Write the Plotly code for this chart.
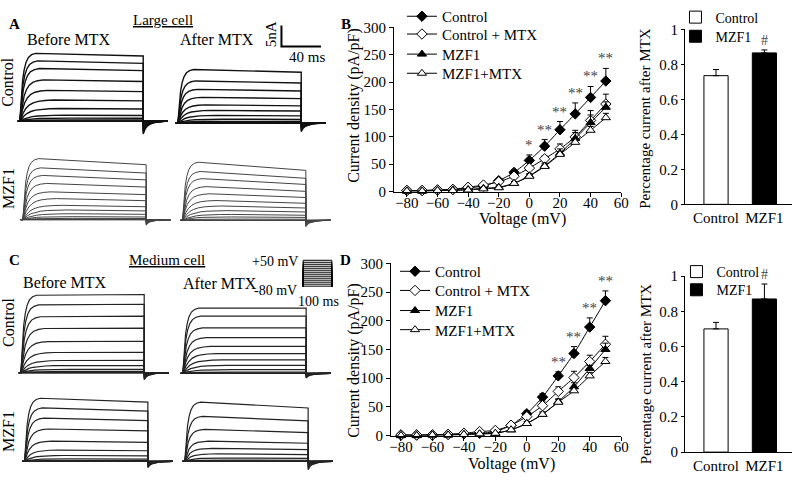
import plotly.graph_objects as go

W, H = 800, 485

# ------------------------
# I-V data (current density, pA/pF)
# ------------------------
voltage = [-80, -70, -60, -50, -40, -30, -20, -10, 0, 10, 20, 30, 40, 50]
iv_names = ["Control", "Control + MTX", "MZF1", "MZF1+MTX"]

# B: large cell
large_ctrl = [2, 2, 3, 4, 7, 10, 20, 35, 57, 83, 113, 142, 172, 202]
large_ctrl_err = [1, 1, 1, 1, 2, 2, 3, 5, 10, 12, 15, 20, 20, 23]
large_ctrl_mtx = [2, 2, 3, 4, 8, 12, 18, 28, 43, 60, 78, 100, 130, 160]
large_ctrl_mtx_err = [1, 1, 1, 1, 1, 2, 3, 3, 4, 5, 9, 12, 18, 18]
large_mzf = [1, 1, 2, 3, 4, 6, 8, 15, 29, 47, 70, 97, 126, 154]
large_mzf_err = [1, 1, 1, 1, 1, 1, 2, 3, 4, 5, 8, 11, 14, 10]
large_mzf_mtx = [1, 1, 2, 2, 3, 5, 7, 15, 28, 46, 68, 90, 112, 135]
large_mzf_mtx_err = [1, 1, 1, 1, 1, 1, 2, 3, 3, 4, 5, 6, 7, 8]
large_sig_v = [0, 10, 20, 30, 40, 50]
large_sig = ["*", "**", "**", "**", "**", "**"]

# D: medium cell
med_ctrl = [1, 1, 1, 2, 3, 4, 7, 18, 38, 67, 104, 143, 189, 235]
med_ctrl_err = [0, 0, 0, 0, 1, 1, 1, 2, 5, 6, 7, 12, 16, 17]
med_ctrl_mtx = [1, 1, 1, 2, 4, 7, 9, 18, 33, 52, 77, 101, 129, 159]
med_ctrl_mtx_err = [0, 0, 0, 0, 1, 1, 2, 2, 4, 8, 8, 11, 11, 14]
med_mzf = [0, 0, 1, 1, 2, 3, 4, 10, 21, 37, 59, 85, 117, 150]
med_mzf_err = [0, 0, 0, 0, 1, 1, 1, 2, 3, 4, 5, 7, 5, 11]
med_mzf_mtx = [0, 0, 1, 1, 2, 3, 4, 10, 21, 37, 58, 78, 104, 129]
med_mzf_mtx_err = [0, 0, 0, 0, 1, 1, 1, 2, 3, 4, 5, 6, 6, 7]
med_sig_v = [20, 30, 40, 50]
med_sig = ["**", "**", "**", "**"]

# ------------------------
# Fraction of current left after MTX
# ------------------------
groups = ["Control", "MZF1"]
group_fill = ["white", "black"]
large_frac = [0.735, 0.865]
large_frac_err = [0.035, 0.017]
med_frac = [0.70, 0.87]
med_frac_err = [0.037, 0.085]

# ------------------------
# Raw current sweeps (peak nA per sweep, largest first)
# ------------------------
a_ctrl_before = [16.1, 14.3, 12.5, 9.8, 7.3, 5.0, 3.0, 1.4, 0.7, 0.3, 0.1, 0, 0, 0]
a_ctrl_after = [12.7, 10.0, 8.0, 6.1, 4.3, 3.0, 1.8, 0.9, 0.4, 0.2, 0.1, 0, 0, 0]
a_mzf_before = [14.5, 12.3, 10.5, 8.6, 6.6, 5.0, 3.4, 2.3, 1.4, 0.7, 0.3, 0, 0, 0]
a_mzf_after = [13.8, 11.6, 9.9, 8.0, 6.3, 4.7, 3.4, 2.3, 1.4, 0.8, 0.3, 0, 0, 0]
c_ctrl_before = [18.4, 16.1, 13.3, 10.5, 7.4, 4.8, 2.9, 1.7, 0.8, 0.3, 0.1, 0, 0, 0]
c_ctrl_after = [15.5, 13.6, 10.8, 8.5, 6.4, 4.7, 3.2, 1.9, 0.9, 0.3, 0.1, 0, 0, 0]
c_mzf_before = [15.0, 12.7, 10.3, 7.7, 4.8, 2.7, 1.4, 0.6, 0.2, 0.1, 0, 0, 0, 0]
c_mzf_after = [14.1, 10.7, 7.6, 4.8, 3.1, 1.8, 0.8, 0.3, 0.1, 0, 0, 0, 0, 0]

# current at step end relative to peak, and tail depth relative to peak
droop = [0.96, 0.95, 0.9, 0.86, 1.01, 1.0, 0.94, 0.9]
tail_depth = [0.19, 0.16, 0.09, 0.11, 0.09, 0.07, 0.1, 0.14]

# normalised activation and tail time courses
act_t = [0, 0.04, 0.1, 0.18, 0.28, 0.4, 0.55, 0.75, 1.0]
act_f = [0, 0.12, 0.38, 0.6, 0.76, 0.87, 0.94, 0.98, 1.0]
rise_ms = [16, 18, 20, 24, 28, 34, 40, 45, 50, 50, 50, 50, 50, 50]
tail_t = [0, 0.5, 2, 4, 7, 11, 16, 24]
tail_f = [1, 0.85, 0.6, 0.4, 0.24, 0.12, 0.05, 0]
step_ms = 125
end_ms = 150

# scale bar and voltage protocol
bar_nA = 5
bar_ms = 40
protocol_ms = 100


def px(x):
    return x / W


def py(y):
    return 1 - y / H


def sweeps(peaks, dr, tail):
    xs, ys = [], []
    for k, amp in enumerate(peaks):
        r = rise_ms[k]
        xs += [-2] + [r * f for f in act_t] + [step_ms] + [step_ms + t for t in tail_t] + [end_ms, None]
        ys += [0] + [amp * f for f in act_f] + [amp * dr] + [-amp * tail * f for f in tail_f] + [0, None]
    return xs, ys


fig = go.Figure()
annotations = []
legends = {}

legend_style = dict(bgcolor="rgba(0,0,0,0)", font=dict(size=15), xanchor="left", yanchor="top")

# ------------------------
# I-V panels B and D
# ------------------------
symbols = ["diamond", "diamond", "triangle-up", "triangle-up"]
fills = ["black", "white", "black", "white"]

iv_sets = [
    ("x", "y", ["legend", "legend5", "legend6", "legend7"], 405, [-14, 5, 26, 46],
     [large_ctrl, large_ctrl_mtx, large_mzf, large_mzf_mtx],
     [large_ctrl_err, large_ctrl_mtx_err, large_mzf_err, large_mzf_mtx_err], large_sig_v, large_sig),
    ("x3", "y3", ["legend3", "legend8", "legend9", "legend10"], 398, [253, 273, 294, 314],
     [med_ctrl, med_ctrl_mtx, med_mzf, med_mzf_mtx],
     [med_ctrl_err, med_ctrl_mtx_err, med_mzf_err, med_mzf_mtx_err], med_sig_v, med_sig),
]

for xa, ya, legs, lx, ltops, series, errs, sig_v, sig in iv_sets:
    for i in range(4):
        fig.add_trace(go.Scatter(
            x=voltage, y=series[i], name=iv_names[i], mode="lines+markers",
            xaxis=xa, yaxis=ya, legend=legs[i], cliponaxis=False,
            line=dict(color="black", width=1, shape="spline", smoothing=0.6),
            marker=dict(symbol=symbols[i], size=8, color=fills[i],
                        line=dict(color="black", width=1)),
            error_y=dict(type="data", array=errs[i], arrayminus=[0] * len(voltage),
                         symmetric=False, color="black", thickness=1, width=3),
        ))
        legends[legs[i]] = dict(legend_style, x=px(lx), y=py(ltops[i]))
    for v, s in zip(sig_v, sig):
        k = voltage.index(v)
        annotations.append(dict(
            x=v, y=series[0][k] + errs[0][k], xref=xa, yref=ya, text=s,
            showarrow=False, yanchor="bottom", font=dict(size=15, color="#444444"),
        ))

# ------------------------
# Bar panels
# ------------------------
bar_sets = [
    ("x2", "y2", ["legend2", "legend11"], 682, [-12, 8], large_frac, large_frac_err),
    ("x4", "y4", ["legend4", "legend12"], 683, [254, 273], med_frac, med_frac_err),
]
for xa, ya, legs, lx, ltops, vals, errs in bar_sets:
    for i in range(2):
        fig.add_trace(go.Bar(
            x=[groups[i]], y=[vals[i]], name=groups[i], xaxis=xa, yaxis=ya, legend=legs[i],
            width=0.5, marker=dict(color=group_fill[i], line=dict(color="black", width=1)),
            error_y=dict(type="data", array=[errs[i]], arrayminus=[0], symmetric=False,
                         color="black", thickness=1, width=3),
        ))
        legends[legs[i]] = dict(legend_style, x=px(lx), y=py(ltops[i]), font=dict(size=14))
    annotations.append(dict(
        x=groups[1], y=vals[1] + errs[1], xref=xa, yref=ya, text="#", showarrow=False,
        yanchor="bottom", font=dict(size=14, color="#444444"),
    ))

# ------------------------
# Current traces (A and C)
# ------------------------
trace_panels = [
    (a_ctrl_before, 18, 113, "#111", 1.4),
    (a_ctrl_after, 178, 115, "#111", 1.4),
    (a_mzf_before, 21, 216, "#444", 1.0),
    (a_mzf_after, 182.7, 216.7, "#444", 1.0),
    (c_ctrl_before, 19, 376, "#222", 1.2),
    (c_ctrl_after, 183, 376.7, "#222", 1.2),
    (c_mzf_before, 22.7, 468.7, "#222", 1.2),
    (c_mzf_after, 185, 468.7, "#222", 1.2),
]

layout_axes = {}
px_per_nA = 4.4
y_lo, y_hi = -3.5, 20.5

for n, (peaks, onset, base, col, lw) in enumerate(trace_panels):
    ax = n + 5
    xs, ys = sweeps(peaks, droop[n], tail_depth[n])
    fig.add_trace(go.Scatter(
        x=xs, y=ys, mode="lines", xaxis=f"x{ax}", yaxis=f"y{ax}", showlegend=False,
        line=dict(color=col, width=lw), hoverinfo="skip",
    ))
    layout_axes[f"xaxis{ax}"] = dict(
        domain=[px(onset - 5), px(onset + 160)], range=[-5, 160],
        visible=False, anchor=f"y{ax}")
    layout_axes[f"yaxis{ax}"] = dict(
        domain=[py(base - y_lo * px_per_nA), py(base - y_hi * px_per_nA)], range=[y_lo, y_hi],
        visible=False, anchor=f"x{ax}")

# scale bar (5 nA / 40 ms)
fig.add_trace(go.Scatter(
    x=[0, 0, bar_ms], y=[bar_nA, 0, 0], mode="lines", xaxis="x13", yaxis="y13",
    showlegend=False, line=dict(color="black", width=2), hoverinfo="skip",
))
layout_axes["xaxis13"] = dict(domain=[px(280), px(326)], range=[-3, 43], visible=False, anchor="y13")
layout_axes["yaxis13"] = dict(domain=[py(37.2), py(10.8)], range=[-0.5, 5.5], visible=False, anchor="x13")

# voltage protocol
vx, vy = [], []
for v in voltage:
    vx += [-3, 0, 0, protocol_ms, protocol_ms, protocol_ms + 3, None]
    vy += [-80, -80, v, v, -80, -80, None]
fig.add_trace(go.Scatter(
    x=vx, y=vy, mode="lines", xaxis="x14", yaxis="y14", showlegend=False,
    line=dict(color="black", width=1), hoverinfo="skip",
))
layout_axes["xaxis14"] = dict(domain=[px(302.1), px(336.9)], range=[-10, 110], visible=False, anchor="y14")
layout_axes["yaxis14"] = dict(domain=[py(287.6), py(256.4)], range=[-90, 60], visible=False, anchor="x14")

# ------------------------
# Text labels
# ------------------------
def label(x, y, text, size=15, angle=0, bold=False, xanchor="center", color="black"):
    annotations.append(dict(
        x=px(x), y=py(y), xref="paper", yref="paper", text=f"<b>{text}</b>" if bold else text,
        showarrow=False, textangle=angle, xanchor=xanchor, yanchor="middle",
        font=dict(size=size, color=color),
    ))


label(13, 11, "A", 15, bold=True)
label(348, 11, "B", 15, bold=True)
label(13, 258, "C", 15, bold=True)
label(348, 258, "D", 15, bold=True)
label(163, 7, "<u>Large cell</u>", 15)
label(167.5, 258, "<u>Medium cell</u>", 15)
label(67.5, 27.5, "Before MTX", 16)
label(217.5, 27.5, "After MTX", 16)
label(64, 282, "Before MTX", 16)
label(221, 283, "After MTX", 16)
label(272.5, 22, "5nA", 15, angle=-90)
label(308.5, 46, "40 ms", 15)
label(6, 72, "Control", 16, angle=-90)
label(6, 183, "MZF1", 16, angle=-90)
label(6, 323, "Control", 16, angle=-90)
label(6, 437, "MZF1", 16, angle=-90)
label(302, 260, "+50 mV", 14, xanchor="right")
label(301, 290, "-80 mV", 14, xanchor="right")
label(321, 302, "100 ms", 14)
label(356.5, 97, "Current density (pA/pF)", 16, angle=-90)
label(526.7, 215, "Voltage (mV)", 16)
label(357, 363, "Current density (pA/pF)", 16, angle=-90)
label(516, 471, "Voltage (mV)", 16)
label(651.7, 111, "Percentage current after MTX", 15, angle=-90)
label(651.7, 378, "Percentage current after MTX", 15, angle=-90)

# ------------------------
# Axes and layout
# ------------------------
iv_axis = dict(showline=True, linecolor="black", linewidth=1, ticks="outside", ticklen=4,
               tickcolor="black", showgrid=False, zeroline=False, tickfont=dict(size=15))
bar_y = dict(iv_axis, range=[0, 1], tickvals=[0, 0.2, 0.4, 0.6, 0.8, 1], ticklen=3)
bar_x = dict(showline=True, linecolor="black", linewidth=1, ticks="", showgrid=False,
             type="category", range=[-0.64, 1.57], tickfont=dict(size=15))
v_ticks = [-80, -60, -40, -20, 0, 20, 40, 60]

fig.update_layout(
    width=W, height=H,
    margin=dict(l=0, r=0, t=0, b=0),
    paper_bgcolor="white", plot_bgcolor="rgba(0,0,0,0)",
    font=dict(family="Liberation Serif, Times New Roman, serif", size=15, color="black"),
    barmode="overlay",
    xaxis=dict(iv_axis, domain=[px(397), px(627)], range=[-88.4, 60], tickvals=v_ticks,
               ticklabelstandoff=-7, anchor="y"),
    yaxis=dict(iv_axis, domain=[py(186.7), py(15)], range=[0, 300], dtick=50, anchor="x"),
    xaxis3=dict(iv_axis, domain=[px(394), px(627)], range=[-86.3, 60], tickvals=v_ticks,
                ticklabelstandoff=-7, anchor="y3"),
    yaxis3=dict(iv_axis, domain=[py(441.7), py(261.7)], range=[0, 300], dtick=50, anchor="x3"),
    xaxis2=dict(bar_x, domain=[px(691.7), 1.0], anchor="y2"),
    yaxis2=dict(bar_y, domain=[py(200), py(17)], anchor="x2"),
    xaxis4=dict(bar_x, domain=[px(691.7), 1.0], anchor="y4"),
    yaxis4=dict(bar_y, domain=[py(459), py(275)], anchor="x4"),
    annotations=annotations,
    **legends,
    **layout_axes,
)

fig.write_html("out.html", config={"displayModeBar": False},
               post_script="document.body.style.margin='0';")
